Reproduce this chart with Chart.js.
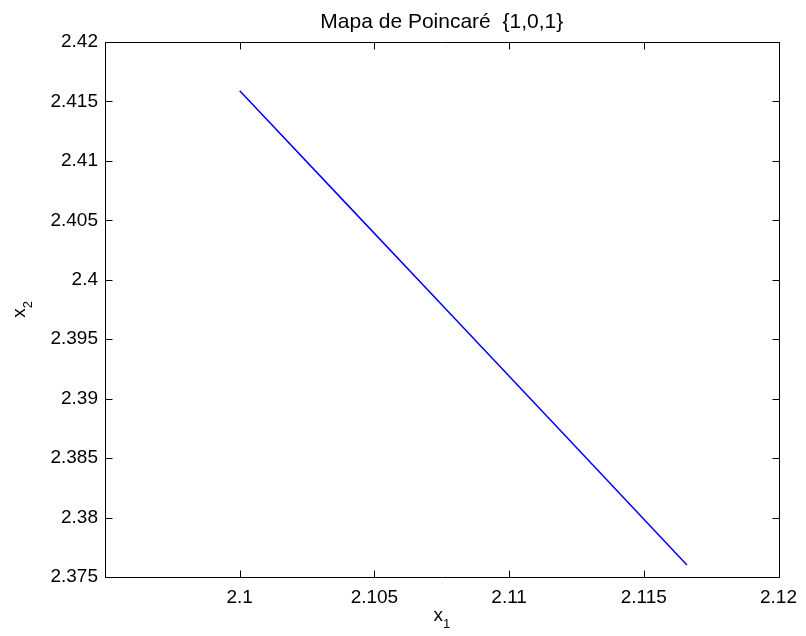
<!DOCTYPE html>
<html>
<head>
<meta charset="utf-8">
<script src="https://cdn.jsdelivr.net/npm/chart.js@4/dist/chart.umd.min.js"></script>
<style>
html,body{margin:0;padding:0;background:#fff;}
#wrap{width:806px;height:636px;}
</style>
</head>
<body>
<div id="wrap"><canvas id="c" width="806" height="636"></canvas></div>
<script>
const titleText = 'Mapa de Poincaré  {1,0,1}';
const x1 = [2.1000, 2.1040, 2.1080, 2.1120, 2.1166];
const x2 = [2.4159, 2.4063, 2.3967, 2.3871, 2.3760];
const xTicks = [2.095, 2.1, 2.105, 2.11, 2.115, 2.12];
const yTicks = [2.375, 2.38, 2.385, 2.39, 2.395, 2.4, 2.405, 2.41, 2.415, 2.42];
const xLabel = ['x', '1'];
const yLabel = ['x', '2'];

const FONT = '"Liberation Sans", Arial, Helvetica, sans-serif';
const fmt = v => String(Number(v.toFixed(3)));

const framePlugin = {
  id: 'frame',
  afterDraw(chart) {
    const ctx = chart.ctx, a = chart.chartArea;
    const xs = chart.scales.x, ys = chart.scales.y;
    const l = Math.round(a.left) + 0.5, r = Math.round(a.right) + 0.5;
    const t = Math.round(a.top) + 0.5, b = Math.round(a.bottom) + 0.5;
    ctx.save();
    ctx.strokeStyle = '#000';
    ctx.lineWidth = 1;
    ctx.beginPath();
    ctx.rect(l, t, r - l, b - t);
    ctx.stroke();
    const L = 7;
    ctx.beginPath();
    xTicks.forEach(v => {
      const p = Math.round(xs.getPixelForValue(v)) + 0.5;
      ctx.moveTo(p, b); ctx.lineTo(p, b - L);
      ctx.moveTo(p, t); ctx.lineTo(p, t + L);
    });
    yTicks.forEach(v => {
      const p = Math.round(ys.getPixelForValue(v)) + 0.5;
      ctx.moveTo(l, p); ctx.lineTo(l + L, p);
      ctx.moveTo(r, p); ctx.lineTo(r - L, p);
    });
    ctx.stroke();
    // title
    ctx.fillStyle = '#000';
    ctx.textAlign = 'center';
    ctx.textBaseline = 'alphabetic';
    ctx.font = '21px ' + FONT;
    ctx.fillText(titleText, (a.left + a.right) / 2, 28);
    // x label with subscript
    const cx = (a.left + a.right) / 2;
    ctx.font = '19px ' + FONT;
    ctx.textAlign = 'left';
    const wx = ctx.measureText(xLabel[0]).width;
    ctx.font = '13px ' + FONT;
    const ws = ctx.measureText(xLabel[1]).width;
    let sx = cx - (wx + ws) / 2;
    ctx.font = '19px ' + FONT;
    ctx.fillText(xLabel[0], sx, 621);
    ctx.font = '13px ' + FONT;
    ctx.fillText(xLabel[1], sx + wx, 628);
    // y label rotated
    ctx.translate(25, (a.top + a.bottom) / 2);
    ctx.rotate(-Math.PI / 2);
    ctx.font = '19px ' + FONT;
    const wy = ctx.measureText(yLabel[0]).width;
    ctx.font = '13px ' + FONT;
    const wys = ctx.measureText(yLabel[1]).width;
    sx = -(wy + wys) / 2;
    ctx.font = '19px ' + FONT;
    ctx.fillText(yLabel[0], sx, 0);
    ctx.font = '13px ' + FONT;
    ctx.fillText(yLabel[1], sx + wy, 7);
    ctx.restore();
  }
};

new Chart(document.getElementById('c'), {
  type: 'scatter',
  data: {
    datasets: [{
      data: x1.map((v, i) => ({x: v, y: x2[i]})),
      showLine: true,
      borderColor: '#0000ff',
      backgroundColor: '#0000ff',
      borderWidth: 1.5,
      pointRadius: 0,
      tension: 0
    }]
  },
  options: {
    responsive: false,
    animation: false,
    devicePixelRatio: 1,
    layout: {padding: {left: 0, right: 26, top: 42, bottom: 0}},
    plugins: {legend: {display: false}, tooltip: {enabled: false}, title: {display: false}},
    scales: {
      x: {
        type: 'linear', min: 2.095, max: 2.12,
        afterBuildTicks: s => { s.ticks = xTicks.map(v => ({value: v})); },
        afterFit: s => { s.height = 59; },
        grid: {display: false, drawTicks: false},
        border: {display: false},
        ticks: {
          color: '#000', padding: 9, maxRotation: 0, autoSkip: false,
          font: {family: FONT, size: 19},
          callback: v => Math.abs(v - 2.095) < 1e-9 ? '' : fmt(v)
        }
      },
      y: {
        type: 'linear', min: 2.375, max: 2.42,
        afterBuildTicks: s => { s.ticks = yTicks.map(v => ({value: v})); },
        afterFit: s => { s.width = 105; },
        grid: {display: false, drawTicks: false},
        border: {display: false},
        ticks: {
          color: '#000', padding: 7, autoSkip: false,
          font: {family: FONT, size: 19},
          callback: v => fmt(v)
        }
      }
    }
  },
  plugins: [framePlugin]
});
</script>
</body>
</html>
